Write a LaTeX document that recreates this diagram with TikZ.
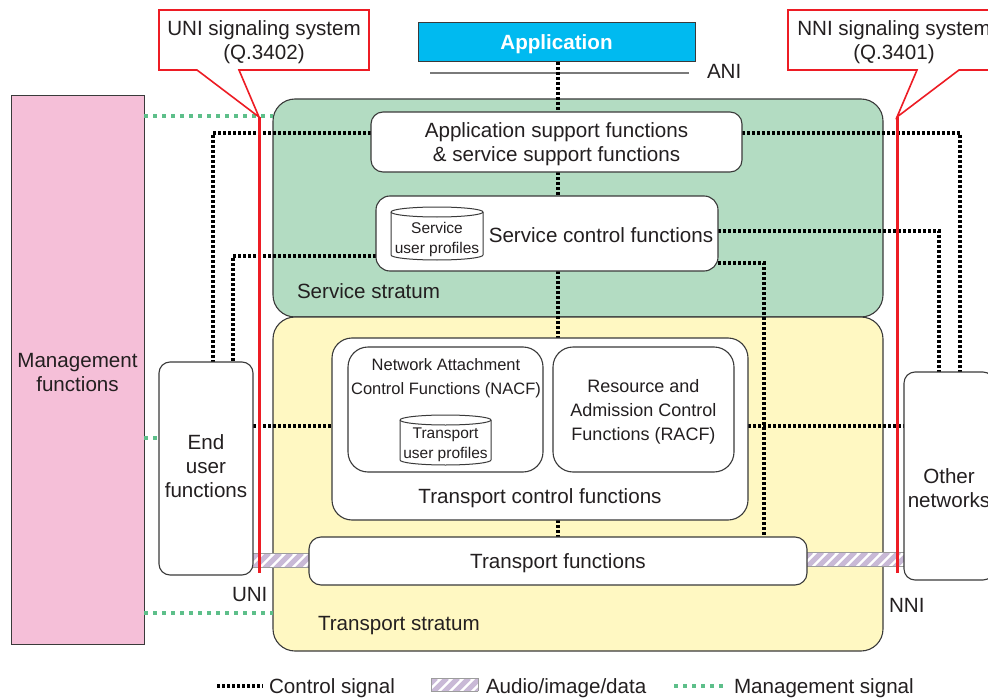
\documentclass[tikz,border=0pt]{standalone}
\usepackage{fontspec}
\setmainfont{Liberation Sans}
\definecolor{ink}{HTML}{231F20}
\definecolor{edge}{HTML}{3A3A3A}
\definecolor{svcgreen}{HTML}{B3DCC2}
\definecolor{trpyellow}{HTML}{FFF8C2}
\definecolor{mgmtpink}{HTML}{F5BFD8}
\definecolor{appcyan}{HTML}{00BAF0}
\definecolor{sigred}{HTML}{ED1C24}
\definecolor{mgreen}{HTML}{5DBF8A}
\definecolor{lav}{HTML}{C9B9D6}
\definecolor{bargray}{HTML}{9C9C9C}
\definecolor{anigray}{HTML}{7A7A7A}

% striped media bar between two corner coordinates (top-left, bottom-right)
\newcommand\stripedbar[2]{%
  \begin{scope}
    \clip (#1) rectangle (#2);
    \fill[white] (#1) rectangle (#2);
    \begin{scope}[shift={(#1)}]
      \foreach \k in {-2,...,11}
        \draw[stripe] (11*\k,16) -- (11*\k+16,0);
    \end{scope}
  \end{scope}
  \draw[barline] (#1) -- (#1 -| #2) (#1 |- #2) -- (#2);
}

\begin{document}
\begin{tikzpicture}[x=1pt,y=-1pt,
  every node/.style={text=ink, inner sep=0pt, outer sep=0pt},
  lbl/.style={font=\fontsize{20.6}{24}\selectfont, align=center},
  ctext/.style={lbl, yshift=-2pt},
  racffont/.style={font=\fontsize{18}{24}\selectfont, align=center, yshift=-2pt},
  nacffont/.style={font=\fontsize{16.5}{24}\selectfont, align=center, yshift=-2pt},
  proffont/.style={font=\fontsize{15.5}{20}\selectfont, align=center, yshift=-2pt},
  wbox/.style={draw=edge, line width=1.1pt, fill=white, rounded corners=#1},
  wbox/.default=12pt,
  stratum/.style={draw=edge, line width=1.1pt, rounded corners=22pt},
  cyl/.style={draw=edge, line width=1pt, fill=white},
  ctrl/.style={draw=black, line width=3.2pt, dash pattern=on 3pt off 2pt},
  mgmtsig/.style={draw=mgreen, line width=4pt, dash pattern=on 4pt off 5pt},
  redline/.style={draw=sigred, line width=3pt},
  callout/.style={draw=sigred, line width=1.6pt, fill=white, line join=miter},
  stripe/.style={draw=lav, line width=5pt},
  barline/.style={draw=bargray, line width=0.9pt},
]
\useasboundingbox (0,0) rectangle (988,698);
\begin{scope}
\clip (0,0) rectangle (988,698);

% management block
\node[draw=edge, line width=1pt, fill=mgmtpink, minimum width=133pt, minimum height=548pt]
  (mgmt) at (77.5,370) {};
\node[ctext] (mgmttext) at (77.5,371) {Management\\functions};

% strata
\node[stratum, fill=svcgreen, minimum width=610pt, minimum height=218pt] (svs) at (578,208) {};
\node[stratum, fill=trpyellow, minimum width=610pt, minimum height=334pt] (trs) at (578,484) {};
\node[lbl, anchor=base west] (svslabel) at (297,298) {Service stratum};
\node[lbl, anchor=base west] (trslabel) at (318,630) {Transport stratum};

% application and ANI
\node[draw=edge, line width=1pt, fill=appcyan, minimum width=277pt, minimum height=39pt] (app) at (556.5,42.5) {};
\node[ctext, font=\bfseries\fontsize{20.6}{24}\selectfont, text=white] (apptext) at (app.center) {Application};
\coordinate (aniL) at (430,73);
\coordinate (aniR) at (689,73);
\draw[anigray, line width=2pt] (aniL) -- (aniR);
\node[lbl, anchor=base west] (anilabel) at (707,79) {ANI};

% box geometry (drawn later)
\path node[minimum width=371pt, minimum height=60pt] (appsup) at (556.5,142) {}
      node[minimum width=342pt, minimum height=75pt] (svc) at (547,233.5) {}
      node[minimum width=416pt, minimum height=182pt] (tcf) at (540,429) {}
      node[minimum width=195pt, minimum height=125pt] (nacf) at (445.5,409.5) {}
      node[minimum width=181pt, minimum height=125pt] (racf) at (643.5,409.5) {}
      node[minimum width=498pt, minimum height=48pt] (tf) at (558,561) {}
      node[minimum width=94pt, minimum height=213pt] (eu) at (206,468.5) {}
      node[minimum width=90pt, minimum height=208pt] (on) at (949,476) {};

% management signals
\coordinate (m1) at ([yshift=254pt]mgmt.east);
\coordinate (m2) at ([yshift=-68pt]mgmt.east);
\coordinate (m3) at ([yshift=-243pt]mgmt.east);
\draw[mgmtsig] (m1) -- (m1 -| svs.west);
\draw[mgmtsig] (m2) -- (m2 -| eu.west);
\draw[mgmtsig] (m3) -- (m3 -| trs.west);

% control signals
\coordinate (spine) at (558,0);
\draw[ctrl] (spine |- app.south) -- (spine |- appsup.north);
\draw[ctrl] (spine |- appsup.south) -- (spine |- svc.north);
\draw[ctrl] (spine |- svc.south) -- (spine |- tcf.north);
\draw[ctrl] (spine |- tcf.south) -- (spine |- tf.north);
\draw[ctrl] ([yshift=9pt]appsup.west) -| ([xshift=7pt]eu.north);
\draw[ctrl] ([yshift=-22.5pt]svc.west) -| ([xshift=27pt]eu.north);
\coordinate (euc) at ([yshift=42.5pt]eu.east);
\draw[ctrl] (euc) -- (euc -| tcf.west);
\draw[ctrl] ([yshift=9pt]appsup.east) -| ([xshift=11pt]on.north);
\draw[ctrl] ([yshift=2.5pt]svc.east) -| ([xshift=-10pt]on.north);
\draw[ctrl] ([yshift=-29.5pt]svc.east) -| ([xshift=206pt]tf.north);
\coordinate (tcfc) at ([yshift=3pt]tcf.east);
\draw[ctrl] (tcfc) -- (tcfc -| on.west);
\draw[ctrl] ([yshift=-2.5pt]nacf.east) -- ([yshift=-2.5pt]racf.west);

% media bars
\coordinate (bl1) at (253,553);
\coordinate (bl2) at (309,567);
\coordinate (br1) at (806,552);
\coordinate (br2) at (904,566);
\stripedbar{bl1}{bl2}
\stripedbar{br1}{br2}

% functional boxes
\draw[wbox=12pt] (appsup.north west) rectangle (appsup.south east);
\node[ctext] (appsuptext) at (appsup.center) {Application support functions\\\& service support functions};
\draw[wbox=14pt] (svc.north west) rectangle (svc.south east);
\node[ctext] (svctext) at (601,233.5) {Service control functions};
\draw[wbox=20pt] (tcf.north west) rectangle (tcf.south east);
\node[ctext] (tcftext) at (540,496) {Transport control functions};
\draw[wbox=20pt] (nacf.north west) rectangle (nacf.south east);
\node[nacffont] (nacftext) at (446,376) {Network Attachment\\Control Functions (NACF)};
\draw[wbox=20pt] (racf.north west) rectangle (racf.south east);
\node[racffont] (racftext) at (racf.center) {Resource and\\Admission Control\\Functions (RACF)};
\draw[wbox=12pt] (tf.north west) rectangle (tf.south east);
\node[ctext] (tftext) at (tf.center) {Transport functions};
\draw[wbox=11pt] (eu.north west) rectangle (eu.south east);
\node[ctext] (eutext) at (206,464) {End\\user\\functions};
\draw[wbox=11pt] (on.north west) rectangle (on.south east);
\node[ctext] (ontext) at (949,486) {Other\\networks};

% user profile databases
\node[minimum width=92pt, minimum height=53pt] (sprof) at (437,233.5) {};
\filldraw[cyl] ([yshift=-5pt]sprof.north west) -- ([yshift=5pt]sprof.south west)
  arc[start angle=180, end angle=0, x radius=46, y radius=5]
  -- ([yshift=-5pt]sprof.north east)
  arc[start angle=0, end angle=-180, x radius=46, y radius=5] -- cycle;
\draw[cyl, fill=none] ([yshift=-5pt]sprof.north west) arc[start angle=180, end angle=0, x radius=46, y radius=5];
\node[proffont] (sproftext) at (437,237) {Service\\user profiles};

\node[minimum width=91pt, minimum height=50pt] (tprof) at (445.5,440) {};
\filldraw[cyl] ([yshift=-5pt]tprof.north west) -- ([yshift=5pt]tprof.south west)
  arc[start angle=180, end angle=0, x radius=45.5, y radius=5]
  -- ([yshift=-5pt]tprof.north east)
  arc[start angle=0, end angle=-180, x radius=45.5, y radius=5] -- cycle;
\draw[cyl, fill=none] ([yshift=-5pt]tprof.north west) arc[start angle=180, end angle=0, x radius=45.5, y radius=5];
\node[proffont] (tproftext) at (445.5,443) {Transport\\user profiles};

% signaling reference points
\node[minimum width=210pt, minimum height=60pt] (uni) at (264,40) {};
\coordinate (unitip) at (259,117);
\coordinate (uniend) at (259,573);
\filldraw[callout] (uni.south west) -- (uni.north west) -- (uni.north east) -- (uni.south east)
  -- (239,70) -- (unitip) -- (197,70) -- cycle;
\node[ctext] (unitext) at (uni.center) {UNI signaling system\\(Q.3402)};
\draw[redline] (unitip) -- (uniend);
\node[lbl, anchor=base west] (unilabel) at (232,601) {UNI};

\node[minimum width=212pt, minimum height=60pt] (nni) at (894,40) {};
\coordinate (nnitip) at (897,117);
\coordinate (nniend) at (897,573);
\filldraw[callout] (nni.south west) -- (nni.north west) -- (nni.north east) -- (nni.south east)
  -- (959,70) -- (nnitip) -- (917,70) -- cycle;
\node[ctext] (nnitext) at (nni.center) {NNI signaling system\\(Q.3401)};
\draw[redline] (nnitip) -- (nniend);
\node[lbl, anchor=base west] (nnilabel) at (889,612) {NNI};

% legend
\coordinate (lc1) at (217,686);
\coordinate (lc2) at (263,686);
\draw[ctrl] (lc1) -- (lc2);
\node[lbl, anchor=base west] (lctext) at (269,693) {Control signal};
\coordinate (lh1) at (431,678);
\coordinate (lh2) at (478,691);
\stripedbar{lh1}{lh2}
\draw[barline] (lh1) -- (lh1 |- lh2) (lh1 -| lh2) -- (lh2);
\node[lbl, anchor=base west] (lhtext) at (486,693) {Audio/image/data};
\coordinate (lm1) at (674,686);
\coordinate (lm2) at (725,686);
\draw[mgmtsig] (lm1) -- (lm2);
\node[lbl, anchor=base west] (lmtext) at (734,693) {Management signal};
\end{scope}
\end{tikzpicture}
\end{document}
